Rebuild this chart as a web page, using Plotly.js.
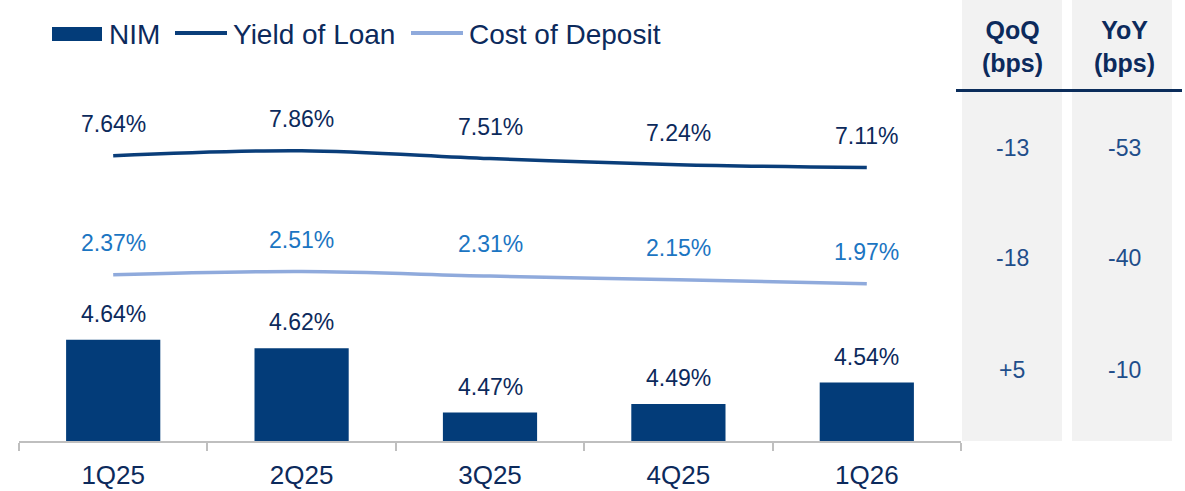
<!DOCTYPE html>
<html>
<head>
<meta charset="utf-8">
<script src="https://cdn.plot.ly/plotly-3.0.1.min.js"></script>
<style>
  html, body { margin: 0; padding: 0; background: #ffffff; }
  #chart { width: 1185px; height: 491px; }
</style>
</head>
<body>
<div id="chart"></div>
<script>
// ---- Data ----
const categories = ['1Q25', '2Q25', '3Q25', '4Q25', '1Q26'];
const nim = [4.64, 4.62, 4.47, 4.49, 4.54];
const yieldOfLoan = [7.64, 7.86, 7.51, 7.24, 7.11];
const costOfDeposit = [2.37, 2.51, 2.31, 2.15, 1.97];
const tableHeaders = ['QoQ<br>(bps)', 'YoY<br>(bps)'];
const qoqBps = ['-13', '-18', '+5'];
const yoyBps = ['-53', '-40', '-10'];

// ---- Styling ----
const FONT = 'Liberation Sans, Arial, sans-serif';
const NAVY = '#0c2a5c';
const BAR = '#033c79';
const YIELD_LINE = '#0a3e7a';
const COST_LINE = '#8faadc';
const COST_TEXT = '#1b75c2';
const PANEL_TEXT = '#1f4e8a';
const PANEL_BG = '#f2f2f2';

// pixel -> paper helpers (plot area: x 19..961, y 10..441)
const L = 19, R = 961, T = 10, B = 441;
const px = v => (v - L) / (R - L);
const py = v => (B - v) / (B - T);

const traces = [
  {
    type: 'bar', name: 'NIM', x: categories, y: nim,
    marker: { color: BAR }, yaxis: 'y', hoverinfo: 'x+y'
  },
  {
    type: 'scatter', mode: 'lines', name: 'Yield of Loan', x: categories, y: yieldOfLoan,
    line: { color: YIELD_LINE, width: 3.5, shape: 'spline', smoothing: 1 }, yaxis: 'y2'
  },
  {
    type: 'scatter', mode: 'lines', name: 'Cost of Deposit', x: categories, y: costOfDeposit,
    line: { color: COST_LINE, width: 3.5, shape: 'spline', smoothing: 1 }, yaxis: 'y2'
  }
];

const annotations = [];
categories.forEach((c, i) => {
  annotations.push({ x: c, y: nim[i], xref: 'x', yref: 'y', text: nim[i].toFixed(2) + '%',
    showarrow: false, yanchor: 'middle', yshift: 26, font: { family: FONT, size: 23, color: NAVY } });
  annotations.push({ x: c, y: yieldOfLoan[i], xref: 'x', yref: 'y2', text: yieldOfLoan[i].toFixed(2) + '%',
    showarrow: false, yanchor: 'middle', yshift: 32, font: { family: FONT, size: 23, color: NAVY } });
  annotations.push({ x: c, y: costOfDeposit[i], xref: 'x', yref: 'y2', text: costOfDeposit[i].toFixed(2) + '%',
    showarrow: false, yanchor: 'middle', yshift: 32, font: { family: FONT, size: 23, color: COST_TEXT } });
});

// Legend (manual)
const legendFont = { family: FONT, size: 28, color: NAVY };
annotations.push({ xref: 'paper', yref: 'paper', x: px(107), y: py(34), xanchor: 'left', yanchor: 'middle', text: 'NIM', showarrow: false, font: legendFont });
annotations.push({ xref: 'paper', yref: 'paper', x: px(231), y: py(34), xanchor: 'left', yanchor: 'middle', text: 'Yield of Loan', showarrow: false, font: legendFont });
annotations.push({ xref: 'paper', yref: 'paper', x: px(467), y: py(34), xanchor: 'left', yanchor: 'middle', text: 'Cost of Deposit', showarrow: false, font: legendFont });

// Table headers and values
const colCenters = [1012, 1124];
tableHeaders.forEach((h, j) => {
  annotations.push({ xref: 'paper', yref: 'paper', x: px(colCenters[j]), y: py(46), xanchor: 'center', yanchor: 'middle',
    text: '<b>' + h + '</b>', showarrow: false, font: { family: FONT, size: 25, color: NAVY } });
});
const rowY = [148, 258, 370];
[qoqBps, yoyBps].forEach((col, j) => {
  col.forEach((v, r) => {
    annotations.push({ xref: 'paper', yref: 'paper', x: px(colCenters[j]), y: py(rowY[r]), xanchor: 'center', yanchor: 'middle',
      text: v, showarrow: false, font: { family: FONT, size: 23, color: PANEL_TEXT } });
  });
});

const shapes = [
  { type: 'rect', xref: 'paper', yref: 'paper', x0: px(962), x1: px(1062), y0: py(441), y1: py(0), fillcolor: PANEL_BG, line: { width: 0 }, layer: 'below' },
  { type: 'rect', xref: 'paper', yref: 'paper', x0: px(1072), x1: px(1172), y0: py(441), y1: py(0), fillcolor: PANEL_BG, line: { width: 0 }, layer: 'below' },
  { type: 'line', xref: 'paper', yref: 'paper', x0: px(956), x1: px(1182), y0: py(90.5), y1: py(90.5), line: { color: '#0b2d5b', width: 3 } },
  // legend symbols
  { type: 'rect', xref: 'paper', yref: 'paper', x0: px(52), x1: px(102), y0: py(41), y1: py(27), fillcolor: BAR, line: { width: 0 } },
  { type: 'line', xref: 'paper', yref: 'paper', x0: px(175), x1: px(227), y0: py(33), y1: py(33), line: { color: YIELD_LINE, width: 4 } },
  { type: 'line', xref: 'paper', yref: 'paper', x0: px(411), x1: px(463), y0: py(33), y1: py(33), line: { color: COST_LINE, width: 4 } }
];

const layout = {
  width: 1185, height: 491, autosize: false,
  margin: { l: L, r: 1185 - R, t: T, b: 491 - B, pad: 0 },
  paper_bgcolor: '#ffffff', plot_bgcolor: 'rgba(0,0,0,0)',
  showlegend: false,
  bargap: 0.5,
  font: { family: FONT, color: NAVY },
  xaxis: {
    type: 'category', showline: true, linecolor: '#bfbfbf', linewidth: 2,
    ticks: 'outside', tickson: 'boundaries', ticklen: 8, tickwidth: 2, tickcolor: '#bfbfbf',
    ticklabelstandoff: 10,
    tickfont: { family: FONT, size: 26, color: NAVY }, showgrid: false, zeroline: false,
    fixedrange: true
  },
  yaxis: { range: [4.4035, 5.4096], visible: false, showgrid: false, zeroline: false, fixedrange: true },
  yaxis2: { range: [-4.986, 14.084], overlaying: 'y', visible: false, showgrid: false, zeroline: false, fixedrange: true },
  annotations: annotations,
  shapes: shapes
};

Plotly.newPlot('chart', traces, layout, { displayModeBar: false, staticPlot: true });
</script>
</body>
</html>
